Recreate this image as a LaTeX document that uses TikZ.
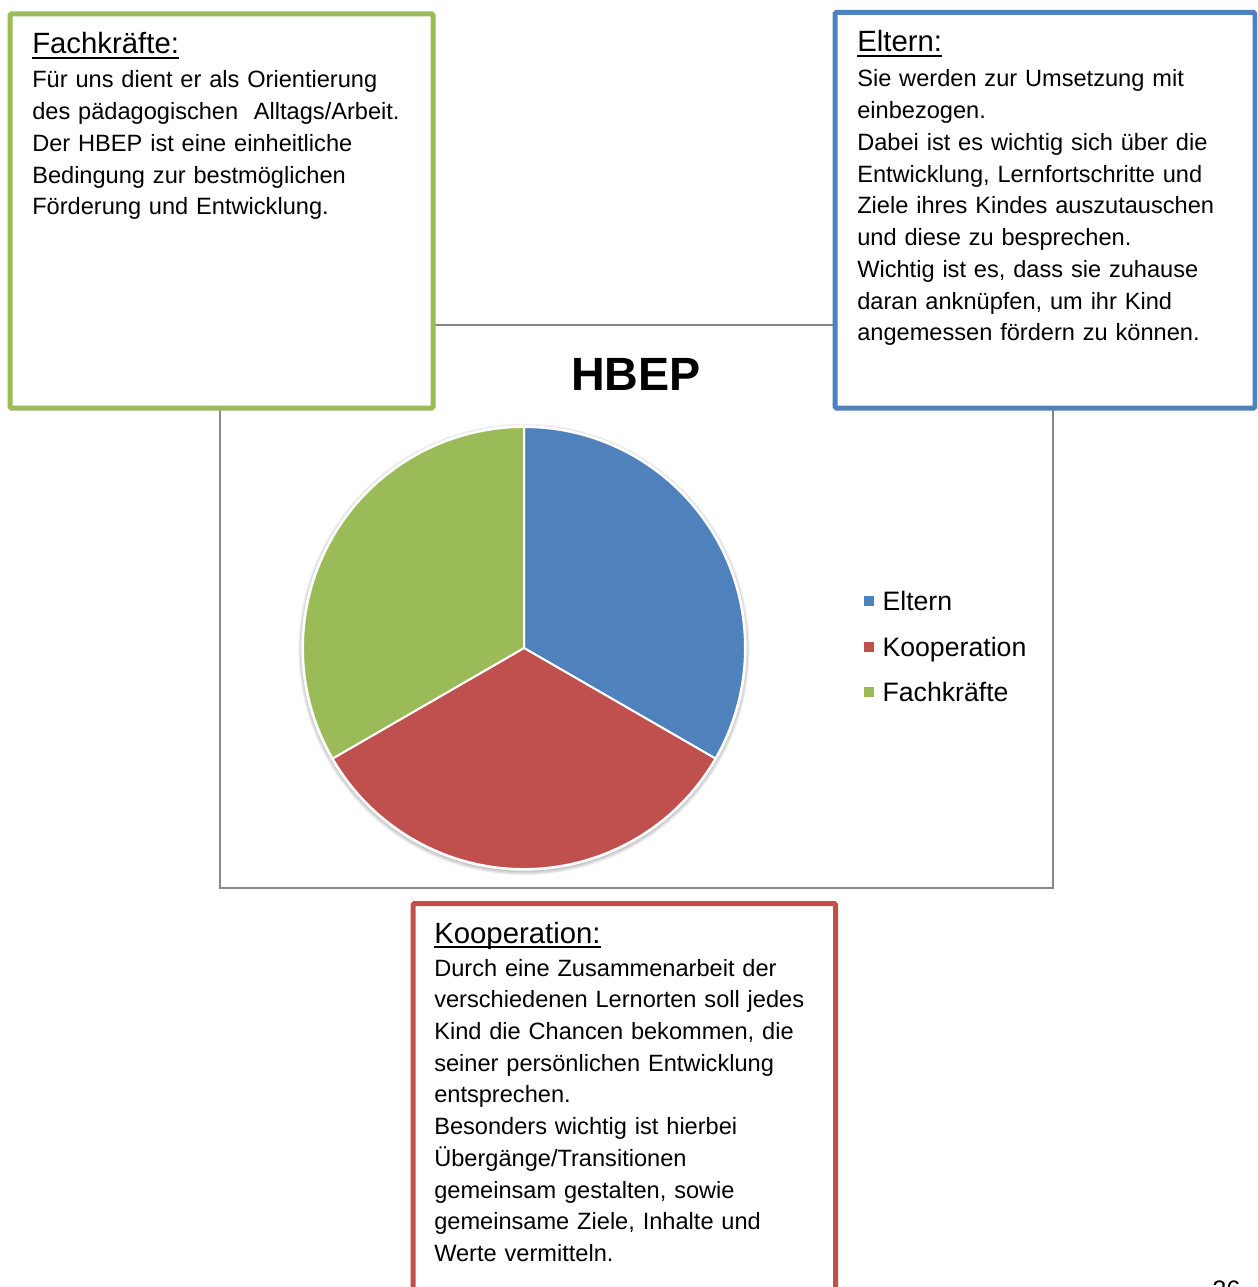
\documentclass[tikz,border=0pt]{standalone}
\usepackage{fontspec}
\setmainfont{Liberation Sans}
\usetikzlibrary{positioning}

\definecolor{elternblue}{HTML}{4F81BD}
\definecolor{koopred}{HTML}{C0504D}
\definecolor{fachgreen}{HTML}{9BBB59}
\definecolor{framegray}{HTML}{888888}

\tikzset{
	infobox/.style={draw=#1, line width=3.75pt, fill=white, rounded corners=1pt},
	boxhead/.style={anchor=base west, inner sep=0pt, font=\fontsize{22}{26}\selectfont},
	boxtext/.style={anchor=base west, inner sep=0pt, text width=300pt, align=left, font=\fontsize{17.7}{23.8}\selectfont},
	headline/.style={line width=1.5pt},
	legkey/.style={fill=#1, minimum size=7.5pt, inner sep=0pt},
	legtext/.style={inner sep=0pt, text depth=0pt, font=\fontsize{20}{24}\selectfont},
	slice/.style={fill=#1, draw=white, line width=1.5pt, line join=round},
}

\begin{document}
\begin{tikzpicture}[x=0.75pt, y=0.75pt]
	
	\clip (0,0) rectangle (1257,-1287);
	\fill[white] (0,0) rectangle (1257,-1287);
	
	% chart area
	\draw[framegray, line width=1.2pt] (220,-325) rectangle (1053,-888);
	\node[font=\fontsize{35}{40}\selectfont\bfseries, text depth=0pt] (title) at (636,-374) {HBEP};
	
	\begin{scope}[shift={(524,-648)}]
		\foreach \r in {1,...,6}
			\fill[black, opacity=0.045] (0,-1.5) circle ({(165.75+0.6*\r)*1pt});
		\fill[white] (0,0) circle (167pt);
		\path[slice=elternblue] (0,0) -- (90:165.75pt) arc[start angle=90, end angle=-30, radius=165.75pt] -- cycle;
		\path[slice=koopred] (0,0) -- (-30:165.75pt) arc[start angle=-30, end angle=-150, radius=165.75pt] -- cycle;
		\path[slice=fachgreen] (0,0) -- (210:165.75pt) arc[start angle=210, end angle=90, radius=165.75pt] -- cycle;
	\end{scope}
	
	\node[legkey=elternblue] (keyeltern) at (869,-601) {};
	\node[legkey=koopred] (keykoop) at (869,-646.5) {};
	\node[legkey=fachgreen] (keyfach) at (869,-692) {};
	\node[legtext, right=6pt of keyeltern] (legeltern) {Eltern};
	\node[legtext, right=6pt of keykoop] (legkoop) {Kooperation};
	\node[legtext, right=6pt of keyfach] (legfach) {Fachkräfte};
	
	% Fachkraefte
	\draw[infobox=fachgreen] (10,-14) rectangle (433,-408);
	\node[boxhead] (fachhead) at (32,-54) {Fachkräfte:};
	\draw[headline] ([yshift=-3pt]fachhead.base west) -- ([yshift=-3pt]fachhead.base east);
	\node[boxtext] (fachtext) at (32,-88) {Für uns dient er als Orientierung\\
		des pädagogischen\ \ Alltags/Arbeit.\\
		Der HBEP ist eine einheitliche\\
		Bedingung zur bestmöglichen\\
		Förderung und Entwicklung.};
	
	% Eltern
	\draw[infobox=elternblue] (835,-12.5) rectangle (1255,-408);
	\node[boxhead] (elternhead) at (857,-52) {Eltern:};
	\draw[headline] ([yshift=-3pt]elternhead.base west) -- ([yshift=-3pt]elternhead.base east);
	\node[boxtext] (elterntext) at (857,-87) {Sie werden zur Umsetzung mit\\
		einbezogen.\\
		Dabei ist es wichtig sich über die\\
		Entwicklung, Lernfortschritte und\\
		Ziele ihres Kindes auszutauschen\\
		und diese zu besprechen.\\
		Wichtig ist es, dass sie zuhause\\
		daran anknüpfen, um ihr Kind\\
		angemessen fördern zu können.};
	
	% Kooperation
	\draw[infobox=koopred] (413,-903.5) rectangle (835.5,-1310);
	\node[boxhead] (koophead) at (434,-943) {Kooperation:};
	\draw[headline] ([yshift=-3pt]koophead.base west) -- ([yshift=-3pt]koophead.base east);
	\node[boxtext] (kooptext) at (434,-976) {Durch eine Zusammenarbeit der\\
		verschiedenen Lernorten soll jedes\\
		Kind die Chancen bekommen, die\\
		seiner persönlichen Entwicklung\\
		entsprechen.\\
		Besonders wichtig ist hierbei\\
		Übergänge/Transitionen\\
		gemeinsam gestalten, sowie\\
		gemeinsame Ziele, Inhalte und\\
		Werte vermitteln.};
	
	\node[anchor=base west, inner sep=0pt, font=\fontsize{19}{22}\selectfont] (pagenum) at (1212,-1298) {26};
	
\end{tikzpicture}
\end{document}
